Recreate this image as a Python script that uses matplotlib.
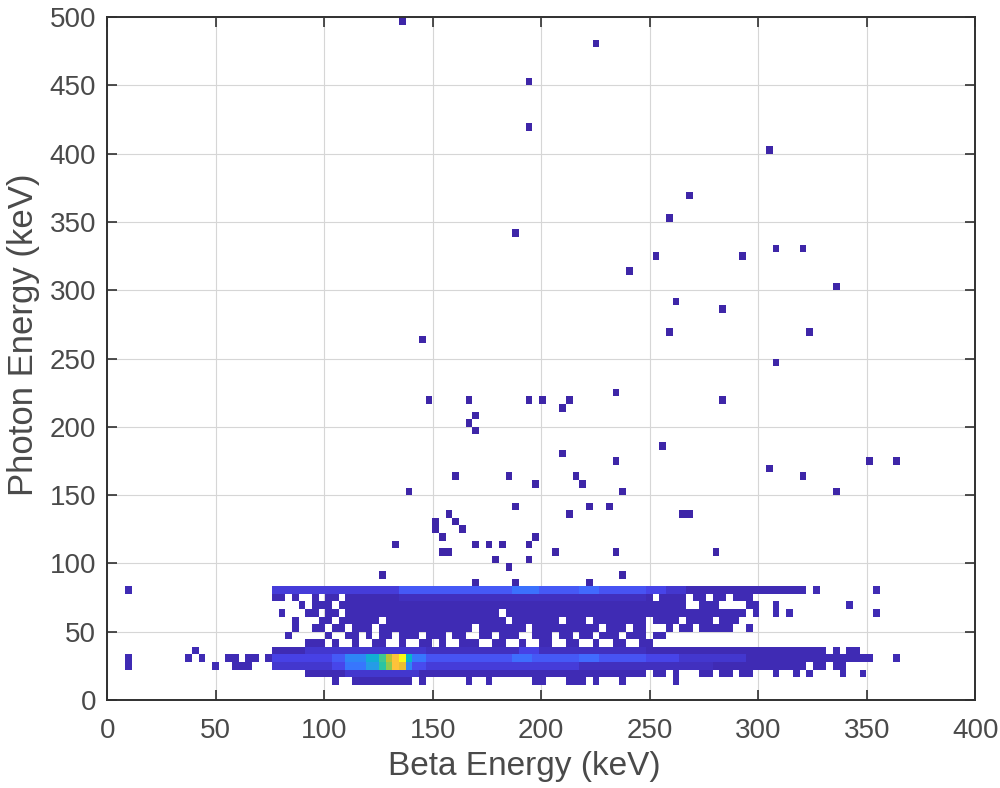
import numpy as np
import matplotlib.pyplot as plt
from matplotlib.colors import LinearSegmentedColormap, Normalize

plt.rcParams['font.family'] = ['Liberation Sans', 'DejaVu Sans']

# histogram grid: 130 x 90 bins over 0-400 keV (beta) and 0-500 keV (photon)
x_edges = np.linspace(0, 400, 131) - 1.0
y_edges = np.linspace(0, 500, 91)

# occupied cells of the dense part, per photon row k: (first beta bin, last beta bin)
band_rows = {
    14: [(3, 3), (25, 104), (106, 106), (115, 115)],
    13: [(25, 26), (28, 28), (31, 31), (33, 34), (36, 81), (83, 86), (88, 89), (91, 92), (94, 96)],
    12: [(29, 29), (31, 33), (35, 86), (89, 91), (96, 97), (100, 100), (111, 111)],
    11: [(26, 26), (30, 31), (33, 34), (36, 58), (60, 95), (97, 97), (100, 100), (102, 102), (115, 115)],
    10: [(28, 28), (32, 33), (35, 40), (42, 59), (61, 67), (69, 71), (73, 80), (82, 85), (87, 90), (92, 94)],
    9: [(28, 28), (31, 32), (34, 35), (37, 39), (41, 54), (56, 62), (64, 73), (75, 77), (79, 80),
        (84, 84), (86, 87), (89, 93), (96, 96)],
    8: [(27, 27), (33, 33), (36, 37), (39, 39), (41, 42), (44, 46), (48, 50), (52, 53), (56, 57),
        (59, 61), (64, 66), (68, 69), (71, 72), (74, 76), (78, 80), (82, 83)],
    7: [(30, 32), (34, 34), (37, 37), (40, 41), (44, 44), (47, 48), (50, 50), (53, 55), (58, 59),
        (62, 62), (65, 66), (69, 70), (73, 73), (76, 77), (80, 81)],
    6: [(13, 13), (25, 107), (109, 109), (111, 112)],
    5: [(3, 3), (12, 12), (14, 14), (18, 19), (21, 22), (24, 114), (118, 118)],
    4: [(3, 3), (16, 16), (19, 21), (25, 104), (106, 107), (109, 110)],
    3: [(30, 80), (82, 83), (85, 85), (89, 90), (92, 93), (95, 96), (100, 100), (103, 103),
        (105, 105), (110, 110), (113, 113)],
    2: [(34, 34), (37, 45), (47, 47), (54, 54), (57, 57), (64, 65), (69, 71), (73, 73), (77, 77), (85, 85)],
}
band_count = 2

# brighter stretches: (row k, first bin, last bin, counts)
bright_runs = [
    (14, 25, 43, 5), (14, 44, 60, 13), (14, 61, 64, 18), (14, 65, 70, 13), (14, 71, 73, 16),
    (14, 74, 80, 12), (14, 81, 83, 7), (14, 84, 86, 4),
    (13, 44, 80, 3),
    (6, 30, 47, 4), (6, 48, 80, 3), (6, 62, 64, 6),
    (5, 25, 33, 6), (5, 34, 35, 13), (5, 36, 38, 22), (5, 39, 40, 28), (5, 41, 41, 36),
    (5, 42, 42, 44), (5, 43, 43, 51), (5, 44, 44, 60), (5, 45, 45, 30), (5, 46, 47, 19),
    (5, 48, 60, 12), (5, 61, 63, 17), (5, 64, 70, 13), (5, 71, 73, 16), (5, 74, 80, 12),
    (5, 81, 85, 7), (5, 86, 95, 4),
    (4, 25, 33, 4), (4, 34, 35, 8), (4, 36, 38, 19), (4, 39, 40, 25), (4, 41, 41, 34),
    (4, 42, 42, 41), (4, 43, 43, 51), (4, 44, 44, 48), (4, 45, 45, 22), (4, 46, 47, 10),
    (4, 48, 70, 5), (4, 71, 90, 3),
    (3, 36, 46, 4),
]

# isolated single events above the bands (beta keV, photon keV)
beta_events = [136, 225, 195, 195, 305, 268, 258, 187, 252, 292, 307, 322, 240, 335, 262, 283,
               258, 325, 308, 145, 285, 304, 320, 337, 351, 364, 282,
               148.2, 166.5, 194.2, 200.3, 212.6, 209.5, 234, 169.8, 166.5, 169.8, 255.5, 209.5,
               234, 160.5, 185, 215.8, 218.9, 197.4, 139, 237.2, 188, 221.8, 231, 212.6, 264.7,
               267.8, 157.5, 160.5, 151.3, 151.3, 163.6, 154.4, 133, 154.4, 157.5, 169.8, 175.9,
               182, 194.2, 197.4, 206.5, 234, 179, 194.2, 185, 126.7, 237.2, 169.8, 188, 221.8]
photon_events = [495, 478, 450, 422, 400, 372, 355, 339, 327, 327, 333, 333, 316, 305, 294, 288,
                 271, 271, 249, 265, 221, 171, 165, 154, 176, 176, 110,
                 220, 220, 220, 220, 220, 215, 226, 209, 204, 198, 187, 181,
                 176, 164, 164, 164, 159, 159, 153, 153, 142, 142, 142, 136, 136,
                 136, 136, 131, 131, 126, 126, 120, 114, 108, 108, 114, 114,
                 114, 114, 120, 108, 108, 103, 103, 97, 92, 92, 86, 86, 86]

counts, _, _ = np.histogram2d(beta_events, photon_events, bins=[x_edges, y_edges])
counts = counts.T
for k, runs in band_rows.items():
    for j0, j1 in runs:
        counts[k, j0:j1 + 1] = band_count
for k, j0, j1, c in bright_runs:
    counts[k, j0:j1 + 1] = c

# MATLAB parula
parula = LinearSegmentedColormap.from_list('parula', [
    (0.2422, 0.1504, 0.6603), (0.2783, 0.2559, 0.8991), (0.2813, 0.3006, 0.9414),
    (0.2602, 0.4123, 0.9952), (0.1963, 0.4847, 0.9892), (0.1380, 0.6276, 0.8973),
    (0.0067, 0.7312, 0.7660), (0.2161, 0.7843, 0.5923), (0.5044, 0.7993, 0.3480),
    (0.8203, 0.7498, 0.1535), (0.9956, 0.7434, 0.2371), (0.9786, 0.8386, 0.1766),
    (0.9769, 0.9839, 0.0805)])

fig = plt.figure(figsize=(10, 7.88), dpi=100)
ax = fig.add_axes([0.1073, 0.1117, 0.868, 0.8667])
ax.pcolormesh(x_edges, y_edges, np.ma.masked_equal(counts, 0), cmap=parula,
              norm=Normalize(1, 60), zorder=2)

ax.set_xlim(0, 400)
ax.set_ylim(0, 500)
ax.set_xticks(np.arange(0, 401, 50))
ax.set_yticks(np.arange(0, 501, 50))
ax.grid(True, color='#d6d6d6', linewidth=0.8, zorder=0)
ax.set_axisbelow(True)

txt = '#4a4a4a'
for s in ax.spines.values():
    s.set_linewidth(1.4)
    s.set_color('#303030')
ax.tick_params(direction='in', length=7, width=1.2, colors='#303030', labelcolor=txt,
               labelsize=20, top=True, right=True)
ax.tick_params(axis='x', pad=13)
ax.tick_params(axis='y', pad=8)
ax.set_xlabel('Beta Energy (keV)', fontsize=24, color=txt)
ax.set_ylabel('Photon Energy (keV)', fontsize=25, color=txt)
ax.xaxis.set_label_coords(0.48, -0.075)
ax.yaxis.set_label_coords(-0.078, 0.535)

fig.savefig('out.png', dpi=100)
